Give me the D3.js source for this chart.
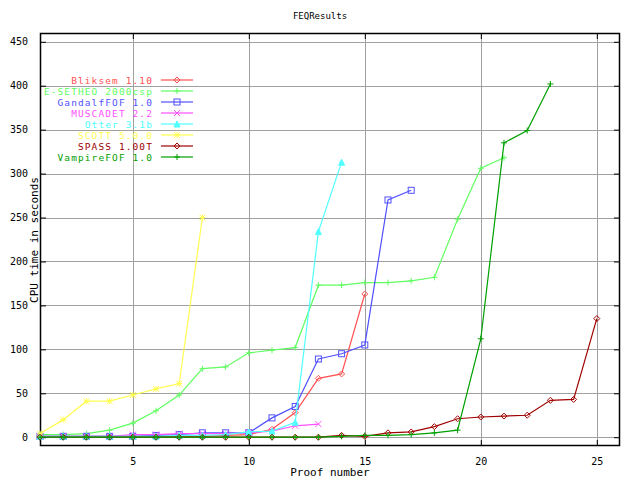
<!DOCTYPE html>
<html>
<head>
<meta charset="utf-8">
<script src="https://cdn.jsdelivr.net/npm/d3@7"></script>
<style>
  body { margin: 0; background: #fff; }
  text { font-family: "DejaVu Sans Mono", monospace; }
</style>
</head>
<body>
<div id="chart"></div>
<script>
const width = 640;
const height = 480;

const xTicks = [5, 10, 15, 20, 25];
const yTicks = [0, 50, 100, 150, 200, 250, 300, 350, 400, 450];

const names = ["Bliksem 1.10", "E-SETHEO 2000csp", "GandalfFOF 1.0", "MUSCADET 2.2",
  "Otter 3.1b", "SCOTT 5.0.0", "SPASS 1.00T", "VampireFOF 1.0"];
const colors = ["#ff5050", "#60ff60", "#5050ff", "#ff50ff", "#50ffff", "#ffff50", "#a00000", "#00a000"];
const markers = ["diamond", "plus", "square", "cross", "triangle", "star", "diamond", "plus"];

// CPU times per proof number, starting at proof 1
const bliksem = [1, 1, 1, 1, 1, 1, 1, 1, 2, 3, 9, 28, 67, 72, 163];
const esetheo = [3, 3, 4, 8, 16, 30, 48, 78, 80, 96, 99, 102, 173, 173, 176, 176, 178, 182, 248, 306, 318];
const gandalf = [1, 1, 1, 1, 1, 2, 3, 5, 5, 5, 22, 35, 89, 95, 105, 270, 281];
const muscadet = [1, 1, 1, 1, 3, 3, 4, 4, 4, 5, 7, 13, 15];
const otter = [1, 1, 1, 1, 1, 1, 2, 2, 3, 6, 7, 17, 234, 313];
const scott = [4, 20, 41, 41, 48, 55, 61, 250];
const spass = [0, 0, 0, 0, 0, 0, 0, 0, 0, 0, 0, 0, 0, 2, 1, 5, 6, 12, 21, 23, 24, 25, 42, 43, 135];
const vampire = [0, 0, 0, 0, 0, 0, 0, 0, 0, 0, 0, 0, 0, 1, 2, 2, 3, 5, 8, 112, 335, 349, 402];

const seriesValues = [bliksem, esetheo, gandalf, muscadet, otter, scott, spass, vampire];

const margin = {top: 33, right: 20, bottom: 34, left: 40};
const x = d3.scaleLinear().domain([1, 26]).range([margin.left, width - margin.right]);
const y = d3.scaleLinear().domain([-10, 460]).range([height - margin.bottom, margin.top]);

const svg = d3.select("#chart").append("svg")
  .attr("width", width)
  .attr("height", height);

svg.append("rect").attr("width", width).attr("height", height).attr("fill", "#fff");

// grid
const grid = svg.append("g").attr("stroke", "#a0a0a0").attr("shape-rendering", "crispEdges");
grid.selectAll(".gx").data(xTicks).enter().append("line")
  .attr("x1", d => Math.round(x(d)) + 0.5).attr("x2", d => Math.round(x(d)) + 0.5)
  .attr("y1", margin.top).attr("y2", height - margin.bottom);
grid.selectAll(".gy").data(yTicks).enter().append("line")
  .attr("y1", d => Math.round(y(d)) + 0.5).attr("y2", d => Math.round(y(d)) + 0.5)
  .attr("x1", margin.left).attr("x2", width - margin.right);

// axes with inward ticks on all four sides
const tl = 6;
const axes = svg.append("g").attr("font-size", 11);
axes.append("g").attr("transform", `translate(0,${height - margin.bottom})`)
  .call(d3.axisBottom(x).tickValues(xTicks).tickSizeInner(-tl).tickSizeOuter(0).tickPadding(12));
axes.append("g").attr("transform", `translate(0,${margin.top})`)
  .call(d3.axisTop(x).tickValues(xTicks).tickSizeInner(-tl).tickSizeOuter(0).tickFormat(""));
axes.append("g").attr("transform", `translate(${margin.left},0)`)
  .call(d3.axisLeft(y).tickValues(yTicks).tickSizeInner(-tl).tickSizeOuter(0).tickPadding(12));
axes.append("g").attr("transform", `translate(${width - margin.right},0)`)
  .call(d3.axisRight(y).tickValues(yTicks).tickSizeInner(-tl).tickSizeOuter(0).tickFormat(""));
axes.selectAll(".domain").remove();
axes.selectAll("text").attr("font-family", "DejaVu Sans Mono").attr("fill", "#000");
axes.selectAll("line").attr("stroke", "#000");

svg.append("rect")
  .attr("x", margin.left + 0.5).attr("y", margin.top + 0.5)
  .attr("width", width - margin.left - margin.right - 1)
  .attr("height", height - margin.top - margin.bottom - 1)
  .attr("fill", "none").attr("stroke", "#000").attr("stroke-width", 1.5);

function drawMarker(g, type, color) {
  const s = 3;
  if (type === "diamond") {
    g.append("path").attr("d", `M0,${-s}L${s},0L0,${s}L${-s},0Z`).attr("fill", "none").attr("stroke", color);
  } else if (type === "plus") {
    g.append("path").attr("d", `M${-s},0H${s}M0,${-s}V${s}`).attr("stroke", color);
  } else if (type === "square") {
    g.append("rect").attr("x", -s).attr("y", -s).attr("width", 2 * s).attr("height", 2 * s)
      .attr("fill", "none").attr("stroke", color);
  } else if (type === "cross") {
    g.append("path").attr("d", `M${-s},${-s}L${s},${s}M${-s},${s}L${s},${-s}`).attr("stroke", color);
  } else if (type === "triangle") {
    g.append("path").attr("d", `M0,${-s}L${s},${s}L${-s},${s}Z`).attr("fill", color).attr("stroke", color);
  } else if (type === "star") {
    g.append("path").attr("d", `M${-s},0H${s}M0,${-s}V${s}M${-s},${-s}L${s},${s}M${-s},${s}L${s},${-s}`)
      .attr("stroke", color);
  }
}

const line = d3.line().x((d, i) => x(i + 1)).y(d => y(d));

const plot = svg.append("g");
seriesValues.forEach((vals, k) => {
  const g = plot.append("g");
  g.append("path").datum(vals)
    .attr("d", line)
    .attr("fill", "none")
    .attr("stroke", colors[k])
    .attr("stroke-width", 1.2);
  g.selectAll(".m").data(vals).enter().append("g")
    .attr("transform", (d, i) => `translate(${x(i + 1)},${y(d)})`)
    .each(function() { drawMarker(d3.select(this), markers[k], colors[k]); });
});

// legend (tight rows as in the original)
const legend = svg.append("g").attr("font-size", 9.5).attr("letter-spacing", 1.1);
names.forEach((name, k) => {
  const ly = 80 + k * 11;
  legend.append("text").attr("x", 153).attr("y", ly + 4)
    .attr("text-anchor", "end").attr("fill", colors[k]).text(name);
  legend.append("line").attr("x1", 161).attr("x2", 193).attr("y1", ly).attr("y2", ly)
    .attr("stroke", colors[k]).attr("stroke-width", 1.2);
  drawMarker(legend.append("g").attr("transform", `translate(177,${ly})`), markers[k], colors[k]);
});

// titles
svg.append("text").attr("x", 320).attr("y", 19).attr("text-anchor", "middle")
  .attr("font-size", 9).text("FEQResults");
svg.append("text").attr("x", 330).attr("y", 476).attr("text-anchor", "middle")
  .attr("font-size", 11).text("Proof number");
svg.append("text").attr("transform", "translate(38,240) rotate(-90)")
  .attr("text-anchor", "middle").attr("font-size", 11).text("CPU time in seconds");
</script>
</body>
</html>
